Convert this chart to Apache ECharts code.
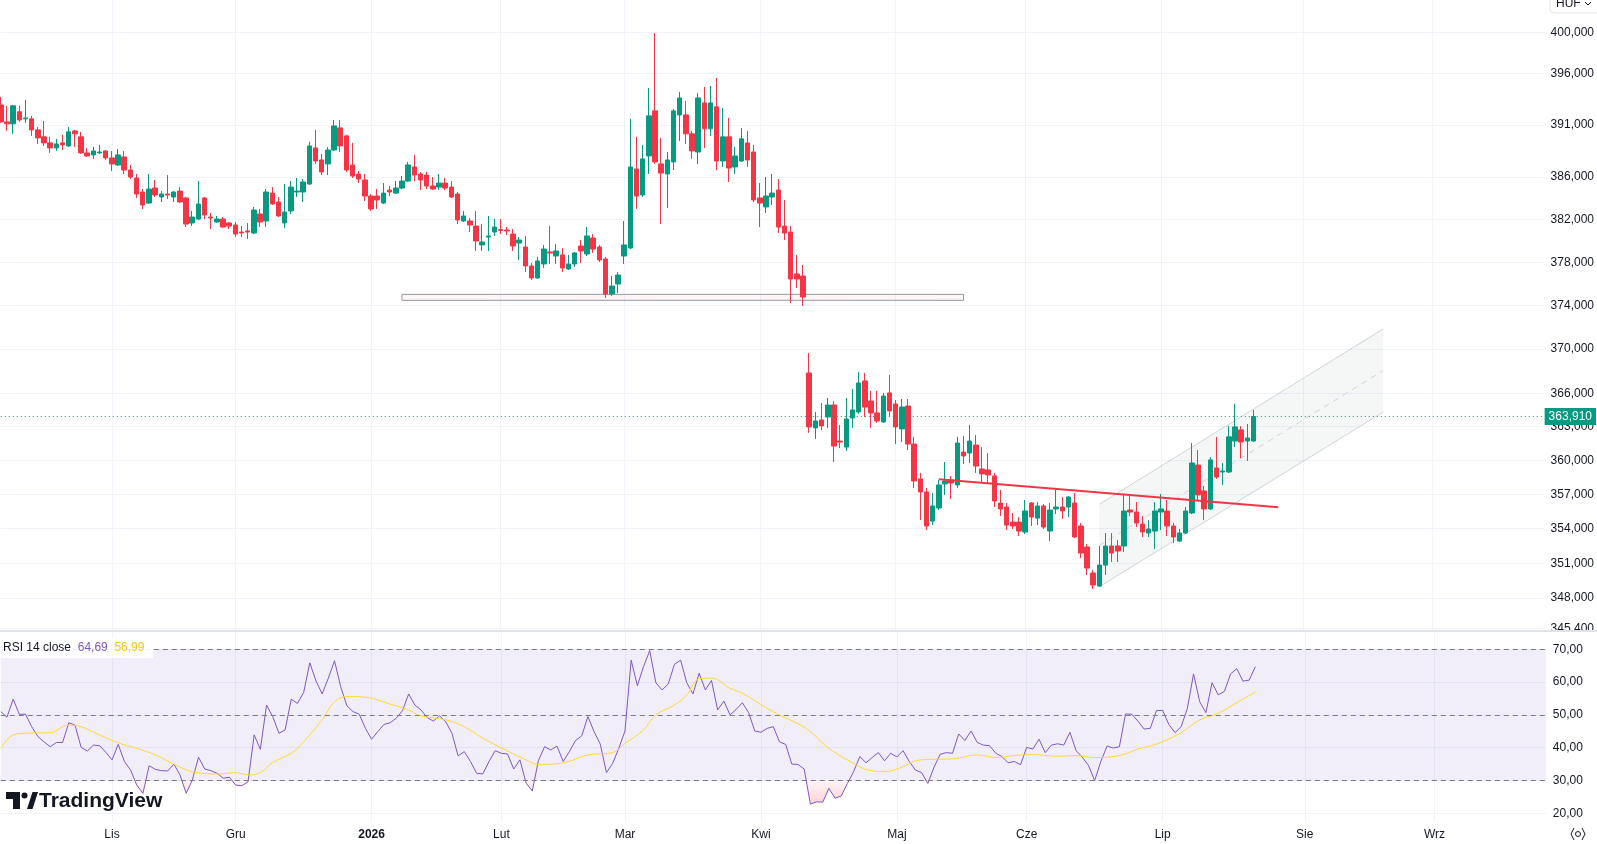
<!DOCTYPE html>
<html>
<head>
<meta charset="utf-8">
<title>EUR/HUF</title>
<script src="https://cdn.jsdelivr.net/npm/echarts@6/dist/echarts.min.js"></script>
<style>
html, body { margin: 0; padding: 0; background: #fff; }
#chart { width: 1597px; height: 844px; }
</style>
</head>
<body>
<div id="chart"></div>
<script>
// sesje (dni robocze), bez 25.12 i 1.01
const firstDay = '2025-10-08';
const lastDay = '2026-09-25';
const closedDays = ['2025-12-25', '2026-01-01'];
const monthNames = ['Sty', 'Lut', 'Mar', 'Kwi', 'Maj', 'Cze', 'Lip', 'Sie', 'Wrz', 'Paź', 'Lis', 'Gru'];

// swiece: [open, close, low, high]
const candles = [
  [392.93,391.29,391.19,393.70],[391.29,391.10,390.42,392.84],[391.10,392.84,390.14,392.93],[392.26,391.48,391.29,392.84],
  [391.58,391.67,391.19,393.41],[391.58,390.52,389.94,391.87],[390.52,389.75,389.17,390.81],[389.85,389.27,388.98,391.38],
  [389.27,388.79,388.31,389.85],[388.79,389.17,388.50,389.66],[389.27,389.08,388.59,390.04],[388.98,390.33,388.88,390.81],
  [390.42,390.14,388.88,390.52],[389.85,388.31,388.21,390.33],[388.31,388.02,387.93,388.79],[388.12,388.50,387.74,388.88],
  [388.31,388.40,388.21,389.08],[388.50,387.83,387.64,388.59],[387.83,387.26,386.58,388.50],[387.16,388.12,387.06,388.69],
  [387.93,386.68,386.30,388.50],[386.68,386.01,385.82,387.16],[385.92,384.40,384.03,386.30],[384.59,383.37,382.99,384.87],
  [383.55,384.87,383.46,386.30],[384.97,384.31,384.12,385.73],[384.12,384.40,383.65,384.68],[384.40,384.31,383.93,386.20],
  [384.12,384.59,383.65,384.68],[384.68,383.65,383.55,385.06],[384.03,381.57,381.29,384.12],[381.67,382.23,381.38,382.80],
  [382.04,383.46,381.95,385.63],[384.03,382.42,382.04,384.12],[382.23,382.14,381.10,382.61],[381.76,382.04,381.67,382.33],
  [382.04,381.29,381.20,382.23],[381.67,381.38,381.10,381.76],[381.48,380.63,380.35,381.76],[380.82,380.73,380.35,381.38],
  [380.92,380.82,380.16,381.67],[380.73,382.89,380.63,383.18],[382.52,381.76,381.29,382.99],[381.86,384.59,381.29,384.87],
  [384.49,383.46,383.37,385.06],[383.65,382.33,382.23,384.12],[381.67,382.70,381.20,385.35],[382.80,385.06,382.52,385.63],
  [384.59,384.68,384.12,385.92],[384.59,385.54,383.65,385.82],[385.35,388.98,385.25,389.37],[388.79,387.54,387.26,390.52],
  [387.64,386.49,386.20,388.21],[387.26,388.59,386.20,388.88],[388.59,390.90,388.50,391.48],[390.71,388.98,388.40,391.48],
  [389.94,386.68,386.49,390.04],[387.16,386.11,385.92,389.27],[386.30,385.82,385.44,386.58],[385.73,384.21,383.74,386.30],
  [384.21,382.99,382.80,384.40],[384.21,383.84,382.99,384.87],[383.55,384.49,383.45,385.44],[384.78,384.59,384.21,385.16],
  [384.49,384.97,384.40,385.63],[384.97,385.63,384.87,386.11],[385.63,387.16,385.54,387.45],[386.97,386.20,385.63,388.12],
  [386.30,385.73,384.78,386.49],[386.20,385.16,384.87,386.49],[385.16,384.87,384.78,386.01],[385.06,385.44,384.78,386.30],
  [385.44,384.97,384.78,385.92],[385.06,384.12,384.03,385.63],[384.40,381.95,381.57,384.59],[381.86,382.33,381.76,382.80],
  [381.86,381.48,380.82,382.14],[381.38,379.98,379.05,382.80],[379.61,379.89,379.05,381.57],[380.35,380.45,379.05,382.33],
  [380.82,381.29,380.45,382.04],[381.06,380.96,380.63,382.04],[381.01,380.92,380.54,381.29],[380.63,379.51,379.05,381.10],
  [379.79,380.07,378.21,380.35],[379.42,377.65,377.09,380.45],[377.65,376.54,376.35,377.93],[376.54,378.12,376.44,378.49],
  [377.84,379.23,377.47,379.61],[378.95,378.86,377.84,381.38],[378.58,379.05,377.84,379.70],[378.68,377.47,377.09,379.33],
  [377.37,377.84,377.28,378.68],[377.84,378.86,377.56,378.95],[379.51,379.05,377.93,380.07],[378.77,380.45,378.58,381.29],
  [380.26,379.23,378.86,380.63],[379.42,378.21,378.02,379.61],[378.30,375.05,374.69,378.49],[375.05,375.79,374.87,376.72],
  [375.98,376.81,375.14,377.09],[378.58,379.61,377.84,381.86],[379.33,386.97,379.23,391.58],[386.78,384.21,382.99,389.85],
  [384.31,387.74,384.12,389.08],[388.02,391.87,386.30,394.57],[392.35,387.45,387.26,399.95],[387.26,386.39,381.57,389.75],
  [386.30,387.64,383.08,388.40],[387.45,392.35,386.68,392.55],[391.96,393.60,389.46,394.19],[391.96,390.14,389.17,393.31],
  [390.14,388.50,387.74,390.42],[388.40,393.60,387.26,394.09],[393.12,390.62,388.79,394.67],[390.62,393.12,389.94,394.77],
  [392.74,387.54,386.68,395.54],[387.54,389.85,386.97,392.64],[389.85,386.87,385.54,391.67],[386.97,388.02,386.30,388.88],
  [387.54,389.66,387.45,390.71],[389.27,387.64,386.97,390.42],[388.40,383.84,383.65,389.08],[384.03,383.55,381.29,385.44],
  [383.18,384.21,382.61,386.01],[384.12,384.49,383.37,386.30],[384.78,381.29,380.73,385.82],[381.38,380.73,380.07,383.84],
  [380.82,376.44,374.22,381.38],[376.91,376.44,375.61,378.68],[376.72,374.78,373.95,377.74],[367.83,362.98,362.45,369.65],
  [362.89,363.51,361.90,364.32],[363.60,363.07,362.71,365.12],[363.87,364.94,362.89,365.57],[364.94,361.27,359.86,365.30],
  [361.72,361.63,361.09,363.15],[361.18,363.69,360.83,365.57],[363.78,364.50,362.89,366.39],[364.32,366.93,364.14,367.92],
  [367.11,364.76,363.87,367.83],[365.30,364.23,362.89,366.21],[364.23,363.51,363.33,366.21],[363.42,365.75,363.33,366.03],
  [366.03,364.41,363.96,367.65],[365.03,362.98,361.45,365.39],[362.80,364.76,361.63,365.48],[364.85,361.45,360.92,365.48],
  [361.45,358.18,357.56,362.09],[358.36,357.21,354.75,358.89],[357.21,354.23,353.88,357.56],[354.66,355.98,354.31,357.12],
  [355.80,357.83,355.63,358.27],[357.92,358.18,356.95,359.86],[358.27,358.00,356.59,358.62],[357.83,361.54,357.56,362.09],
  [360.74,360.39,359.68,362.17],[360.65,361.72,359.77,363.15],[361.36,359.50,358.89,362.26],[359.24,358.80,358.00,361.18],
  [359.15,358.71,358.00,360.65],[358.62,356.42,355.89,358.89],[356.24,355.72,355.10,357.39],[355.89,354.31,353.88,356.24],
  [354.57,354.23,353.97,355.37],[354.57,353.79,353.36,355.01],[353.71,355.54,353.53,356.50],[356.24,355.01,354.23,356.33],
  [354.92,355.98,354.31,356.33],[355.98,354.14,353.97,356.15],[353.79,355.63,352.92,356.24],[355.72,355.89,355.28,357.39],
  [355.89,355.54,354.84,356.77],[355.89,356.77,355.01,356.86],[356.24,353.27,353.18,357.12],[354.23,351.88,351.44,354.49],
  [352.40,350.58,349.98,352.66],[350.15,349.12,348.78,350.41],[349.03,350.84,348.95,352.49],[350.84,352.49,349.98,353.62],
  [352.49,351.88,351.10,353.62],[352.49,352.05,351.10,353.01],[352.49,355.54,351.97,356.95],[355.63,355.45,355.10,356.86],
  [355.45,354.49,354.14,356.33],[354.40,353.71,353.27,355.10],[353.62,353.97,353.27,354.75],[353.79,355.54,352.23,356.33],
  [355.45,355.72,353.88,357.04],[355.54,354.23,353.36,356.50],[354.23,353.27,352.75,354.49],[352.92,353.62,352.84,353.97],
  [353.62,355.54,353.53,355.89],[355.37,359.77,355.28,361.54],[359.59,356.95,356.50,360.92],[357.30,355.72,354.75,357.74],
  [355.72,360.04,355.63,360.30],[359.33,358.53,358.36,362.09],[358.97,359.06,357.83,359.77],[358.97,362.09,358.89,363.06],
  [361.72,362.98,361.18,365.03],[362.71,361.63,360.21,363.06],[361.72,361.99,359.95,363.24],[361.72,363.91,361.63,364.50]
];

// RSI 14 (close)
const rsiValues = [
  51.0,49.3,54.8,50.2,50.2,46.4,43.4,41.8,40.3,41.6, 41.6,47.6,46.9,40.1,39.0,40.8,40.6,38.6,36.3,41.0,
  35.8,33.2,28.6,26.1,34.5,33.4,33.0,32.9,35.0,31.7, 26.1,30.2,37.1,33.5,33.0,32.2,30.7,31.0,28.6,28.4,
  29.6,43.9,39.5,53.0,49.5,44.4,45.4,54.8,53.5,56.8, 65.9,60.3,56.4,61.2,66.5,58.6,52.8,51.0,50.2,45.9,
  42.6,44.9,47.1,47.6,49.0,51.3,56.4,53.0,51.5,49.2, 48.1,49.7,47.9,44.4,37.5,38.8,35.8,32.2,32.0,35.8,
  39.1,38.3,38.1,33.5,36.3,29.2,26.8,36.1,40.3,39.3, 40.5,35.8,38.8,42.2,43.6,49.5,44.9,41.1,32.4,35.2,
  39.8,45.1,66.7,58.9,64.7,69.6,59.8,57.6,59.4,65.4, 66.7,59.8,56.4,62.7,57.6,60.5,51.5,54.2,50.0,51.7,
  53.7,50.7,45.1,44.7,45.9,46.4,41.8,41.0,35.0,34.9, 33.5,22.8,23.5,23.4,27.6,24.6,25.3,29.1,32.7,37.3,
  35.4,37.0,38.5,36.0,38.3,37.2,39.1,35.8,33.2,32.4, 29.1,34.0,38.0,38.5,38.3,44.2,42.2,45.1,41.6,40.8,
  40.6,38.3,37.3,35.4,35.8,34.8,40.1,39.6,42.6,38.5, 40.8,41.2,40.8,44.7,39.1,37.1,34.6,30.0,35.8,40.5,
  39.9,40.3,50.3,50.2,48.1,45.7,45.9,51.3,51.4,47.1, 44.6,46.4,52.0,62.5,54.0,50.7,59.8,56.1,57.2,62.5,
  64.1,60.3,60.6,64.69
];

// srednia RSI, odczytana w wybranych sesjach: [indeks sesji, wartosc]
const rsiMaPoints = [
  [0,39.8],[2,43.9],[4,44.4],[8,44.6],[11,46.9],[13,46.4],[16,43.9],[19,41.5],[22,39.8],[25,37.8],
  [28,35.0],[31,32.7],[35,32.0],[38,32.4],[40,31.7],[42,32.4],[44,35.5],[47,38.3],[49,41.8],[52,48.5],
  [54,54.0],[56,55.6],[59,55.4],[63,53.3],[66,51.5],[68,49.7],[72,48.5],[75,46.4],[78,42.9],[82,39.0],
  [85,36.3],[87,34.9],[91,35.4],[95,37.8],[99,38.5],[101,41.3],[104,45.4],[106,50.0],[109,53.0],[111,56.1],
  [113,61.0],[115,61.2],[118,58.1],[120,56.6],[124,52.0],[126,50.0],[129,47.3],[131,44.9],[134,39.8],[138,35.2],
  [140,33.4],[143,32.7],[146,34.2],[148,36.0],[151,36.5],[154,36.6],[158,37.8],[161,37.0],[164,37.6],[167,37.9],
  [171,37.4],[174,37.6],[177,37.0],[181,37.6],[184,39.6],[187,41.1],[191,44.6],[194,48.5],[197,50.5],[200,53.7],
  [203,56.99]
];

const priceTicks = [400, 396, 391, 386, 382, 378, 374, 370, 366, 363, 360, 357, 354, 351, 348, 345.4];
const priceRange = [345.19, 403.21];
const rsiTicks = [20, 30, 40, 50, 60, 70];
const rsiLevels = [70, 50, 30];
const rsiRange = [17.35, 75.58];

// rysunki na wykresie
const zoneDates = ['2026-01-09', '2026-05-18'];
const zonePrices = [374.47, 375.02];
const trendDates = ['2026-05-12', '2026-07-28'];
const trendPrices = [358.33, 355.87];
const channelDates = ['2026-06-17', '2026-08-20'];
const channelUpper = [356.13, 371.84];
const channelLower = [348.97, 364.30];

const FONT = "'Liberation Sans', Arial, sans-serif";
const L = Math.log;
const fmt = (v, n) => v.toFixed(n).replace('.', ',');

const dates = [];
for (let t = Date.parse(firstDay); t <= Date.parse(lastDay); t += 86400000) {
  const d = new Date(t);
  const s = d.toISOString().slice(0, 10);
  if (d.getUTCDay() === 0 || d.getUTCDay() === 6 || closedDays.includes(s)) continue;
  dates.push(s);
}

const monthLabel = {};
dates.forEach((d, i) => {
  if (i > 0 && d.slice(5, 7) !== dates[i - 1].slice(5, 7)) {
    const m = +d.slice(5, 7);
    monthLabel[i] = m === 1 ? '{y|' + d.slice(0, 4) + '}' : monthNames[m - 1];
  }
});
const isMonthStart = (i) => monthLabel[i] !== undefined;

const lastClose = candles[candles.length - 1][1];
const lastRsi = rsiValues[rsiValues.length - 1];
const lastMa = rsiMaPoints[rsiMaPoints.length - 1][1];

const tagLabel = (text, bg, color) => ({
  show: true, position: 'end', distance: 1, formatter: text,
  backgroundColor: bg, color: color, padding: [3, 4, 2, 4],
  fontSize: 12, fontFamily: FONT
});

const chart = echarts.init(document.getElementById('chart'));
chart.setOption({
  animation: false,
  backgroundColor: '#ffffff',
  grid: [
    { left: 0.8, right: 51.2, top: 0, height: 631 },
    { left: 0.8, right: 51.2, top: 631, bottom: 22 }
  ],
  xAxis: [
    {
      type: 'category', gridIndex: 0, data: dates, boundaryGap: false,
      axisLine: { show: false }, axisTick: { show: false }, axisLabel: { show: false },
      splitLine: { show: true, interval: isMonthStart, lineStyle: { color: '#f0f3fa' } }
    },
    {
      type: 'category', gridIndex: 1, data: dates, boundaryGap: false,
      axisLine: { show: false }, axisTick: { show: false },
      axisLabel: {
        interval: isMonthStart,
        formatter: (v, i) => monthLabel[i] || '',
        color: '#131722', fontSize: 12, fontFamily: FONT, margin: 7,
        rich: { y: { fontWeight: 'bold', fontSize: 12, color: '#131722', fontFamily: FONT } }
      },
      splitLine: { show: true, interval: isMonthStart, lineStyle: { color: '#f0f3fa' } }
    }
  ],
  yAxis: [
    {
      type: 'value', gridIndex: 0, position: 'right',
      min: L(priceRange[0]), max: L(priceRange[1]),
      axisLine: { show: false },
      axisTick: { show: false, customValues: priceTicks.map(L) },
      axisLabel: {
        customValues: priceTicks.map(L),
        formatter: (v) => fmt(Math.exp(v), 3),
        color: '#131722', fontSize: 12, fontFamily: FONT, margin: 7
      },
      splitLine: { show: true, lineStyle: { color: '#f0f3fa' } }
    },
    {
      type: 'value', gridIndex: 1, position: 'right',
      min: rsiRange[0], max: rsiRange[1],
      axisLine: { show: false },
      axisTick: { show: false, customValues: rsiTicks },
      axisLabel: {
        customValues: rsiTicks,
        formatter: (v) => fmt(v, 2),
        color: '#131722', fontSize: 12, fontFamily: FONT, margin: 7
      },
      splitLine: { show: true, lineStyle: { color: '#f0f3fa' } }
    }
  ],
  series: [
    {
      type: 'candlestick', name: 'EUR/HUF', xAxisIndex: 0, yAxisIndex: 0, z: 3,
      data: candles.map(c => c.map(L)),
      barWidth: 5,
      itemStyle: {
        color: '#089981', color0: '#f23645',
        borderColor: '#089981', borderColor0: '#f23645', borderWidth: 1
      },
      markArea: {
        silent: true,
        itemStyle: { color: 'rgba(242,54,69,0.05)', borderColor: '#9598a1', borderWidth: 1 },
        data: [[
          { coord: [zoneDates[0], L(zonePrices[1])] },
          { coord: [zoneDates[1], L(zonePrices[0])] }
        ]]
      },
      markLine: {
        silent: true, symbol: ['none', 'none'], precision: 8, label: { show: false },
        data: [
          {
            yAxis: L(lastClose),
            lineStyle: { color: '#089981', type: [1, 3], width: 1 },
            label: tagLabel(fmt(lastClose, 3), '#089981', '#ffffff')
          },
          [
            { coord: [trendDates[0], L(trendPrices[0])], lineStyle: { color: '#f23645', width: 2, type: 'solid' } },
            { coord: [trendDates[1], L(trendPrices[1])] }
          ]
        ]
      }
    },
    {
      type: 'custom', name: 'kanal', xAxisIndex: 0, yAxisIndex: 0, z: 1, silent: true,
      data: [[dates.indexOf(channelDates[0]), L(channelLower[0])]],
      renderItem: function (params, api) {
        const i0 = dates.indexOf(channelDates[0]);
        const i1 = dates.indexOf(channelDates[1]);
        const u0 = api.coord([i0, L(channelUpper[0])]);
        const u1 = api.coord([i1, L(channelUpper[1])]);
        const l0 = api.coord([i0, L(channelLower[0])]);
        const l1 = api.coord([i1, L(channelLower[1])]);
        const m0 = [(u0[0] + l0[0]) / 2, (u0[1] + l0[1]) / 2];
        const m1 = [(u1[0] + l1[0]) / 2, (u1[1] + l1[1]) / 2];
        return {
          type: 'group',
          children: [
            { type: 'polygon', shape: { points: [u0, u1, l1, l0] }, style: { fill: 'rgba(120,123,134,0.07)' } },
            { type: 'line', shape: { x1: u0[0], y1: u0[1], x2: u1[0], y2: u1[1] }, style: { stroke: '#d1d4dc', lineWidth: 1 } },
            { type: 'line', shape: { x1: l0[0], y1: l0[1], x2: l1[0], y2: l1[1] }, style: { stroke: '#d1d4dc', lineWidth: 1 } },
            { type: 'line', shape: { x1: m0[0], y1: m0[1], x2: m1[0], y2: m1[1] }, style: { stroke: '#d1d4dc', lineWidth: 1, lineDash: [6, 5] } }
          ]
        };
      }
    },
    {
      type: 'line', name: 'RSI', xAxisIndex: 1, yAxisIndex: 1, z: 4,
      data: rsiValues, symbol: 'none',
      lineStyle: { color: '#7e57c2', width: 1 }, itemStyle: { color: '#7e57c2' },
      markArea: {
        silent: true, itemStyle: { color: 'rgba(126,87,194,0.1)' },
        data: [[{ yAxis: rsiLevels[2] }, { yAxis: rsiLevels[0] }]]
      },
      markLine: {
        silent: true, symbol: ['none', 'none'], precision: 4, label: { show: false },
        data: rsiLevels.map(v => ({ yAxis: v, lineStyle: { color: '#787b86', type: [5, 4], width: 1 } }))
          .concat([{ yAxis: lastRsi, lineStyle: { opacity: 0 }, label: tagLabel(fmt(lastRsi, 2), '#7e57c2', '#ffffff') }])
      }
    },
    {
      type: 'line', name: 'RSI MA', xAxisIndex: 1, yAxisIndex: 1, z: 4,
      data: rsiMaPoints, symbol: 'none', smooth: 0.4,
      lineStyle: { color: '#fdd835', width: 1 }, itemStyle: { color: '#fdd835' },
      markLine: {
        silent: true, symbol: ['none', 'none'], precision: 4, label: { show: false },
        data: [{ yAxis: lastMa, lineStyle: { opacity: 0 }, label: tagLabel(fmt(lastMa, 2), '#fdd835', '#131722') }]
      }
    },
    {
      type: 'line', name: 'wyprzedanie', xAxisIndex: 1, yAxisIndex: 1, z: 2, silent: true,
      data: rsiValues, symbol: 'none',
      lineStyle: { width: 0 },
      areaStyle: { origin: 30, opacity: 1, color: 'rgba(0,0,0,0)' }
    }
  ],
  graphic: [
    { type: 'line', z: 100, shape: { x1: 0, y1: 631, x2: 1597, y2: 631 }, style: { stroke: '#e0e3eb', lineWidth: 2 } },
    { type: 'rect', z: 100, shape: { x: 1547, y: 632, width: 50, height: 9 }, style: { fill: '#ffffff' } },
    { type: 'rect', z: 100, shape: { x: 0, y: 638, width: 153, height: 20 }, style: { fill: 'rgba(255,255,255,0.9)' } },
    {
      type: 'text', z: 101, x: 3, y: 648,
      style: {
        text: '{a|RSI 14 close}  {b|' + fmt(lastRsi, 2) + '}  {c|' + fmt(lastMa, 2) + '}',
        verticalAlign: 'middle', font: '12px ' + FONT,
        rich: {
          a: { fill: '#131722', fontSize: 12, fontFamily: FONT },
          b: { fill: '#7e57c2', fontSize: 12, fontFamily: FONT },
          c: { fill: '#f5c518', fontSize: 12, fontFamily: FONT }
        }
      }
    },
    { type: 'polygon', z: 100, shape: { points: [[6, 792], [20, 792], [20, 809], [13, 809], [13, 799], [6, 799]] }, style: { fill: '#131722' } },
    { type: 'circle', z: 100, shape: { cx: 24.5, cy: 795.5, r: 3 }, style: { fill: '#131722' } },
    { type: 'polygon', z: 100, shape: { points: [[27, 809], [32.5, 792], [38, 792], [32.5, 809]] }, style: { fill: '#131722' } },
    {
      type: 'text', z: 100, x: 39, y: 801,
      style: { text: 'TradingView', font: 'bold 21px ' + FONT, fill: '#131722', verticalAlign: 'middle' }
    },
    { type: 'rect', z: 100, shape: { x: 1550, y: -8, width: 60, height: 21, r: 4 }, style: { fill: '#ffffff', stroke: '#e0e3eb', lineWidth: 1 } },
    { type: 'text', z: 101, x: 1556, y: 4, style: { text: 'HUF', font: '12px ' + FONT, fill: '#131722', verticalAlign: 'middle' } },
    { type: 'polyline', z: 101, shape: { points: [[1585, 2], [1588, 5], [1591, 2]] }, style: { stroke: '#131722', lineWidth: 1, fill: null } },
    { type: 'circle', z: 100, shape: { cx: 1578, cy: 834, r: 2.5 }, style: { fill: null, stroke: '#131722', lineWidth: 1 } },
    { type: 'polyline', z: 100, shape: { points: [[1574, 828], [1571, 834], [1574, 840]] }, style: { stroke: '#131722', lineWidth: 1, fill: null } },
    { type: 'polyline', z: 100, shape: { points: [[1582, 828], [1585, 834], [1582, 840]] }, style: { stroke: '#131722', lineWidth: 1, fill: null } }
  ]
});

// gradient wyprzedania: przezroczysty powyzej 30, rozowy ponizej
const y30 = chart.convertToPixel({ yAxisIndex: 1 }, rsiLevels[2]);
const y20 = chart.convertToPixel({ yAxisIndex: 1 }, rsiTicks[0]);
chart.setOption({
  series: [{}, {}, {}, {}, {
    areaStyle: {
      color: new echarts.graphic.LinearGradient(0, y30, 0, y20, [
        { offset: 0, color: 'rgba(242,54,69,0.04)' },
        { offset: 1, color: 'rgba(242,54,69,0.3)' }
      ], true)
    }
  }]
});
// nad 30 bez wypelnienia
chart.setOption({
  series: [{}, {}, {}, {}, {
    areaStyle: {
      color: new echarts.graphic.LinearGradient(0, y30 - 0.5, 0, y20, [
        { offset: 0, color: 'rgba(242,54,69,0)' },
        { offset: 0.02, color: 'rgba(242,54,69,0.05)' },
        { offset: 1, color: 'rgba(242,54,69,0.3)' }
      ], true)
    }
  }]
});
</script>
</body>
</html>
